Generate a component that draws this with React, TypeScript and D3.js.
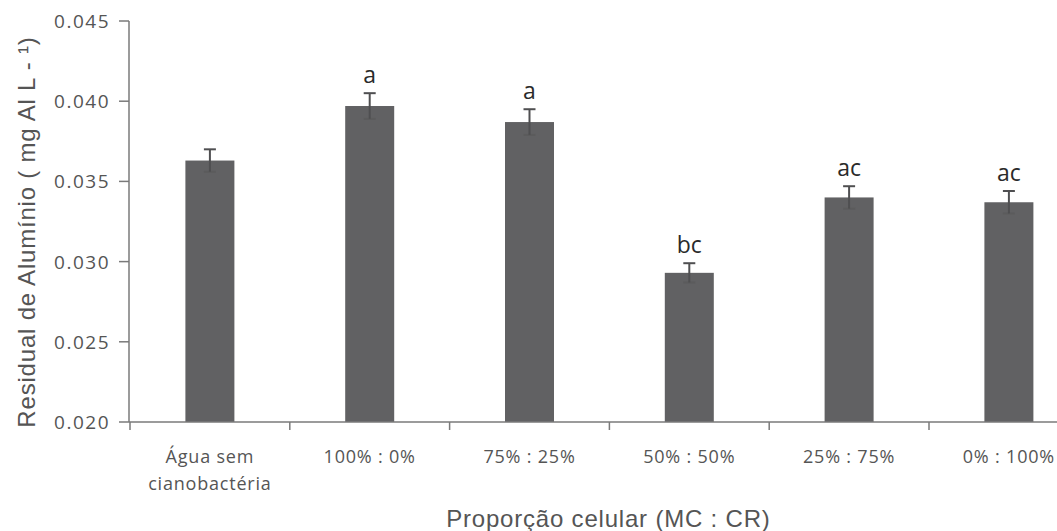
import React, { useRef, useEffect } from 'react';
import * as d3 from 'd3';

const categories = ['Água sem|cianobactéria', '100% : 0%', '75% : 25%', '50% : 50%', '25% : 75%', '0% : 100%'];
const means = [0.0363, 0.0397, 0.0387, 0.0293, 0.0340, 0.0337];
const errors = [0.0007, 0.0008, 0.0008, 0.0006, 0.0007, 0.0007];
const letters = ['', 'a', 'a', 'bc', 'ac', 'ac'];
const yTicks = [0.020, 0.025, 0.030, 0.035, 0.040, 0.045];

const App = () => {
    const svgRef = useRef<SVGSVGElement>(null);

    useEffect(() => {
        const svg = d3.select(svgRef.current)
            .attr('width', 1057)
            .attr('height', 531);

        svg.selectAll('*').remove();

        const margin = { top: 21, left: 129, bottom: 422 };
        const bandW = 159.8;

        const x = d3.scaleBand()
            .domain(categories)
            .range([margin.left, margin.left + bandW * categories.length])
            .paddingInner(0)
            .paddingOuter(0);

        const y = d3.scaleLinear()
            .domain([0.020, 0.045])
            .range([margin.bottom, margin.top]);

        const axisColor = '#7a7a7a';
        const textColor = '#555555';
        const barW = 49;

        // bars
        svg.selectAll('.bar')
            .data(means)
            .enter().append('rect')
            .attr('x', (d, i) => x(categories[i])! + x.bandwidth() / 2 - barW / 2 + 1)
            .attr('y', d => y(d))
            .attr('width', barW)
            .attr('height', d => y(0.020) - y(d))
            .attr('fill', '#616163');

        // error bars
        const eb = svg.append('g').attr('stroke', '#4f4f51').attr('stroke-width', 2);
        means.forEach((m, i) => {
            const cx = x(categories[i])! + x.bandwidth() / 2 + 1;
            eb.append('line')
                .attr('x1', cx).attr('x2', cx)
                .attr('y1', y(m - errors[i])).attr('y2', y(m + errors[i]));
            eb.append('line')
                .attr('x1', cx - 6).attr('x2', cx + 6)
                .attr('y1', y(m + errors[i])).attr('y2', y(m + errors[i]));
            eb.append('line')
                .attr('x1', cx - 6).attr('x2', cx + 6)
                .attr('y1', y(m - errors[i])).attr('y2', y(m - errors[i]))
                .attr('stroke-opacity', 0.35);
        });

        // significance letters
        svg.selectAll('.letter')
            .data(letters)
            .enter().append('text')
            .attr('x', (d, i) => x(categories[i])! + x.bandwidth() / 2 + 1)
            .attr('y', (d, i) => y(means[i] + errors[i]) - 10)
            .attr('text-anchor', 'middle')
            .attr('font-family', '"Open Sans", sans-serif')
            .attr('font-size', 23)
            .attr('fill', '#2a2a2a')
            .text(d => d);

        // y axis
        const gy = svg.append('g');
        gy.append('line')
            .attr('x1', margin.left).attr('x2', margin.left)
            .attr('y1', margin.top).attr('y2', margin.bottom)
            .attr('stroke', axisColor).attr('stroke-width', 1.5);
        yTicks.forEach(t => {
            gy.append('line')
                .attr('x1', margin.left - 10).attr('x2', margin.left)
                .attr('y1', y(t)).attr('y2', y(t))
                .attr('stroke', axisColor).attr('stroke-width', 1.5);
            gy.append('text')
                .attr('x', 110)
                .attr('y', y(t) + 7)
                .attr('text-anchor', 'end')
                .attr('font-family', '"Open Sans", sans-serif')
                .attr('font-size', 19)
                .attr('letter-spacing', 1.5)
                .attr('fill', textColor)
                .text(d3.format('.3f')(t));
        });

        // x axis
        const gx = svg.append('g');
        gx.append('line')
            .attr('x1', margin.left).attr('x2', 1057)
            .attr('y1', margin.bottom).attr('y2', margin.bottom)
            .attr('stroke', axisColor).attr('stroke-width', 1.5);
        categories.forEach(c => {
            const x0 = x(c)!;
            gx.append('line')
                .attr('x1', x0 + 1).attr('x2', x0 + 1)
                .attr('y1', margin.bottom).attr('y2', margin.bottom + 8)
                .attr('stroke', axisColor).attr('stroke-width', 1.5);
            const lines = c.split('|');
            lines.forEach((ln, j) => {
                gx.append('text')
                    .attr('x', x0 + x.bandwidth() / 2 + 1)
                    .attr('y', 463 + j * 27)
                    .attr('text-anchor', 'middle')
                    .attr('font-family', '"Open Sans", sans-serif')
                    .attr('font-size', 18)
                    .attr('letter-spacing', 0.8)
                    .attr('fill', textColor)
                    .text(ln);
            });
        });

        // axis titles
        svg.append('text')
            .attr('x', margin.left + bandW * categories.length / 2)
            .attr('y', 527)
            .attr('text-anchor', 'middle')
            .attr('font-family', '"Liberation Sans", Arial, sans-serif')
            .attr('font-size', 24)
            .attr('letter-spacing', 0.8)
            .attr('fill', textColor)
            .text('Proporção celular (MC : CR)');

        svg.append('text')
            .attr('transform', 'translate(35,232) rotate(-90)')
            .attr('text-anchor', 'middle')
            .attr('font-family', '"Liberation Sans", Arial, sans-serif')
            .attr('font-size', 24)
            .attr('letter-spacing', 0.8)
            .attr('fill', textColor)
            .text('Residual de Alumínio ( mg Al L - ¹)');
    }, []);

    return (
        <div style={{ position: 'absolute', left: 0, top: 0 }}>
            <svg ref={svgRef} style={{ display: 'block' }}></svg>
        </div>
    );
};

export default App;
